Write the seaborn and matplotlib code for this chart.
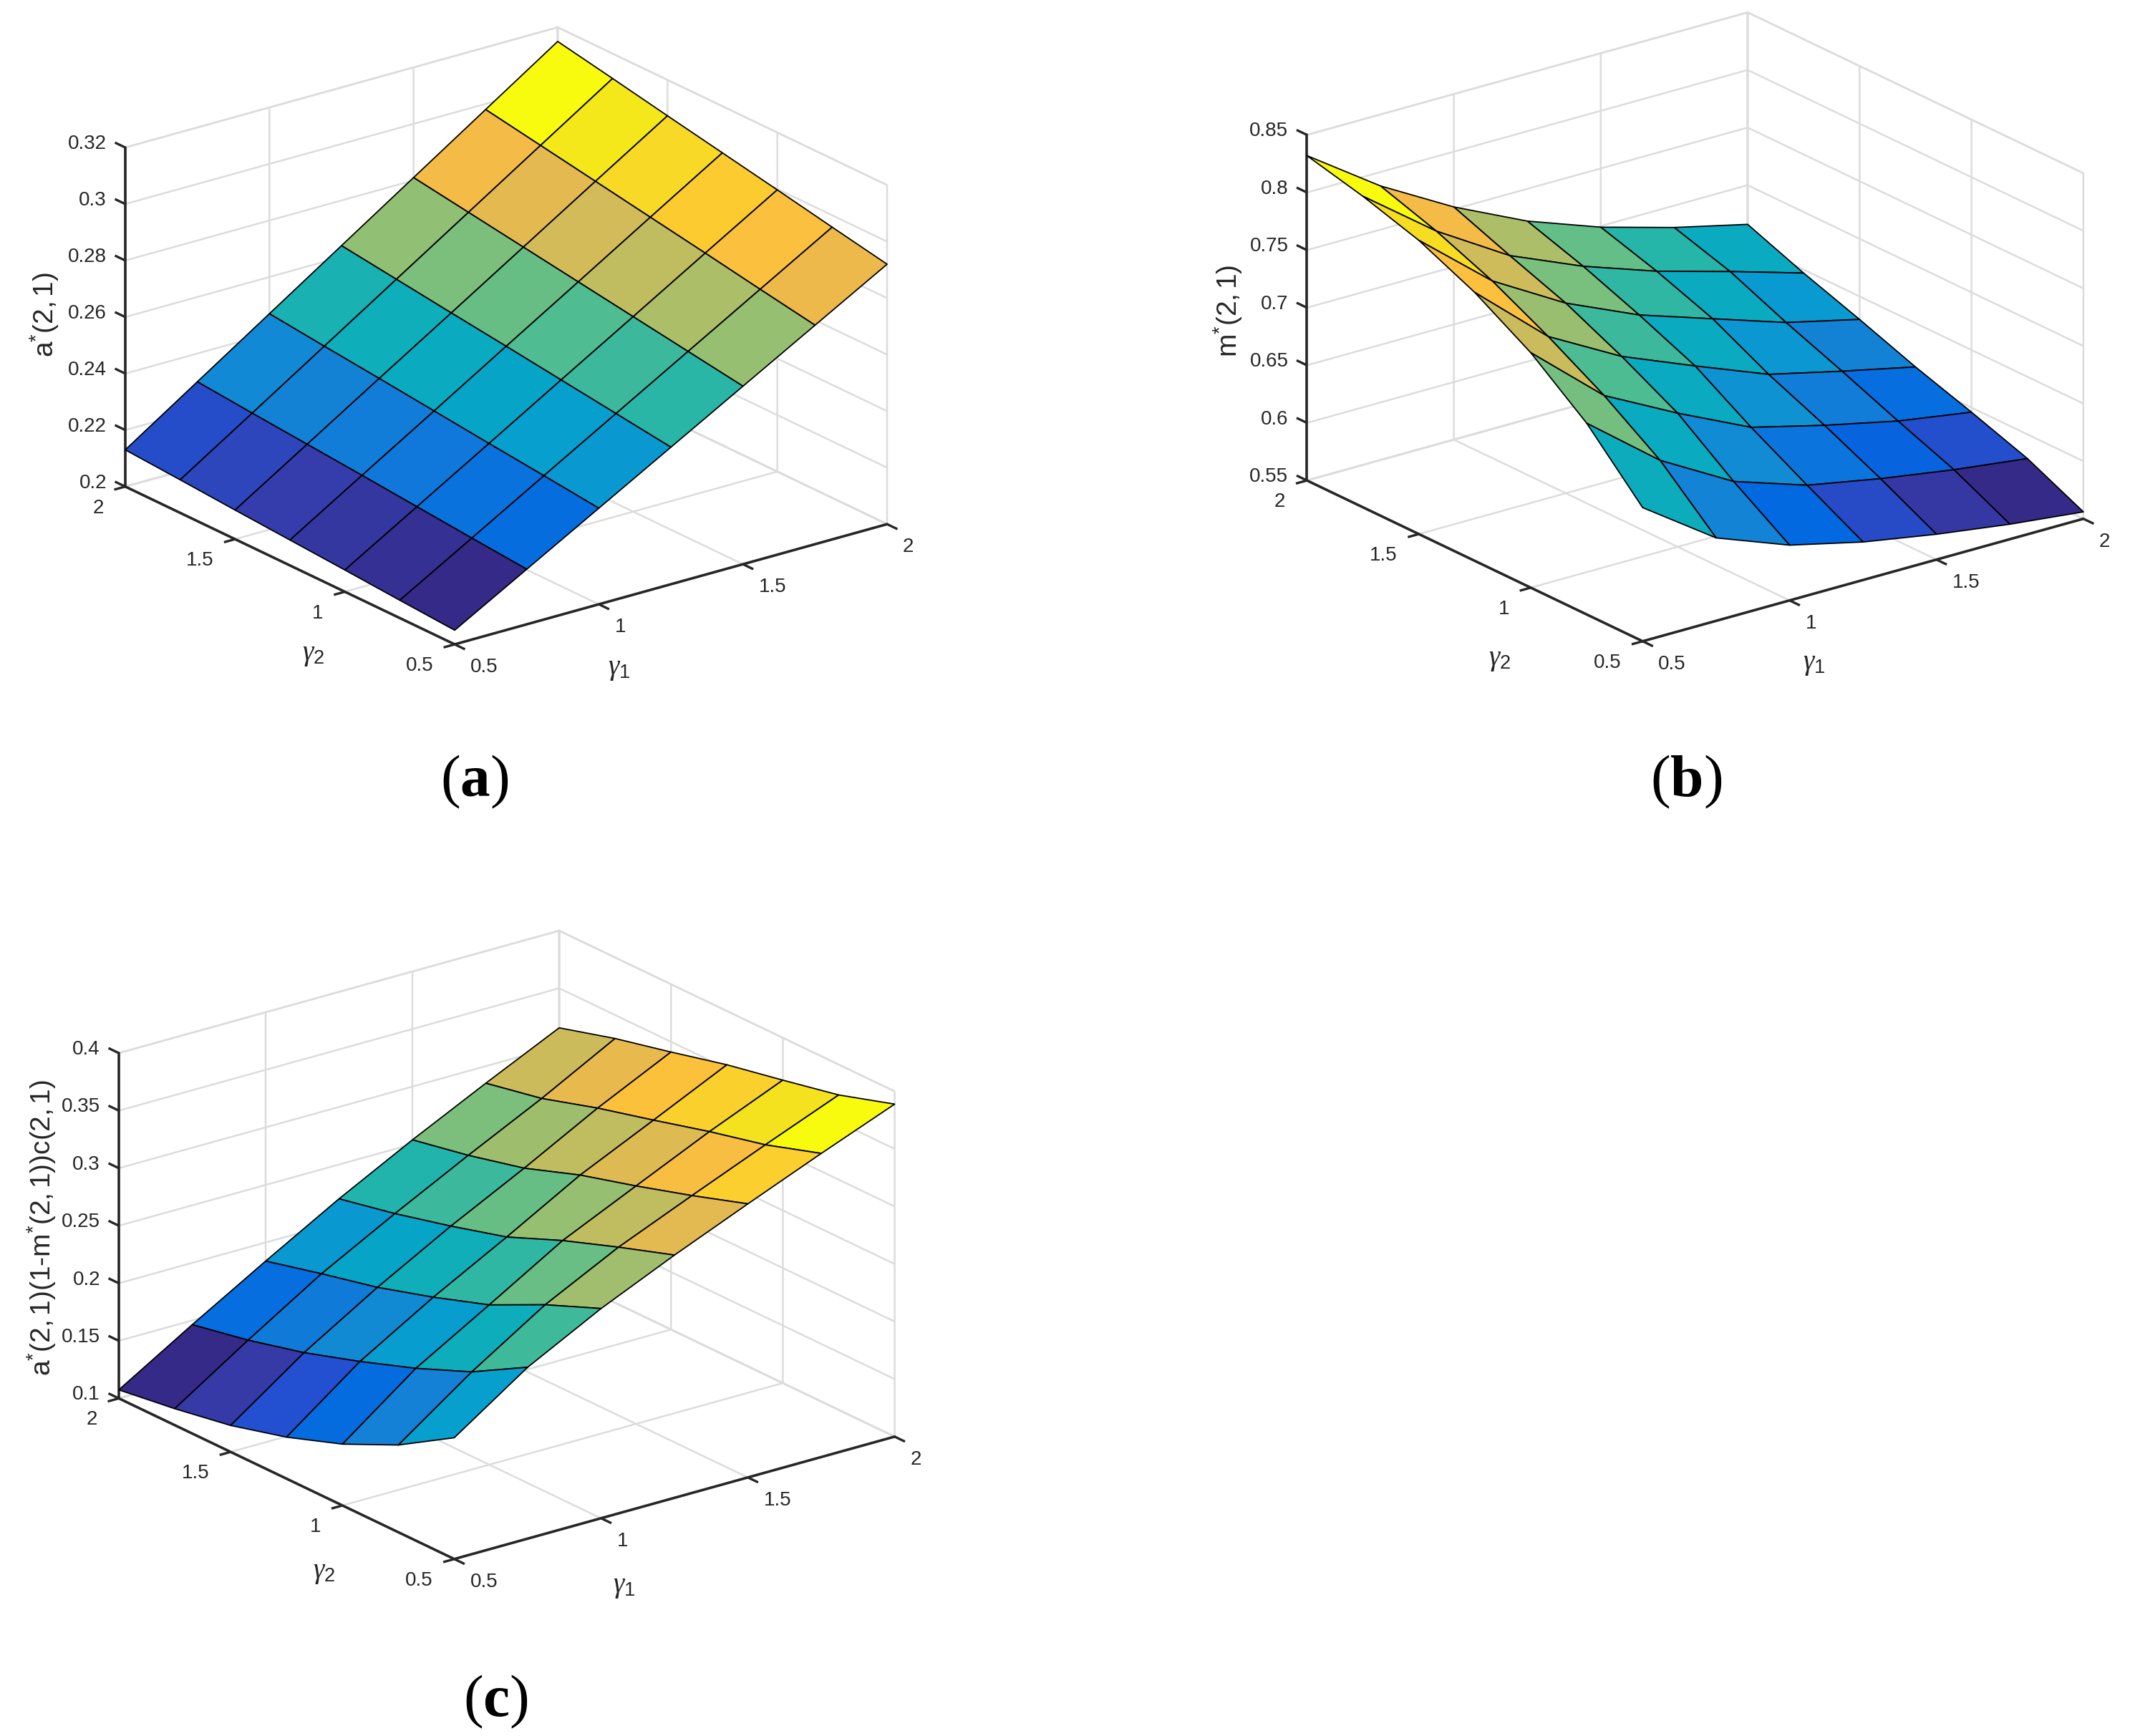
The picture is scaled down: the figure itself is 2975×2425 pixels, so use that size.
import numpy as np
import matplotlib
matplotlib.use('Agg')
import matplotlib.pyplot as plt
from matplotlib.lines import Line2D
import seaborn as sns
from mpl_toolkits.mplot3d import proj3d

sns.set_style('white')
plt.rcParams['font.family'] = ['Liberation Sans', 'DejaVu Sans']
plt.rcParams['mathtext.fontset'] = 'custom'
plt.rcParams['mathtext.rm'] = 'Liberation Sans'
plt.rcParams['mathtext.it'] = 'Liberation Serif:italic'
plt.rcParams['mathtext.bf'] = 'Liberation Serif:bold'
plt.rcParams['grid.color'] = '#dcdcdc'
plt.rcParams['grid.linewidth'] = 1.8
plt.rcParams['grid.linestyle'] = '-'

#%% values read off the three surfaces (rows: gamma2, columns: gamma1)
gamma1 = [0.5, 0.75, 1.0, 1.25, 1.5, 1.75, 2.0]
gamma2 = [0.5, 0.75, 1.0, 1.25, 1.5, 1.75, 2.0]

a_star = [
    [0.2050, 0.2195, 0.2340, 0.2485, 0.2630, 0.2775, 0.2920],
    [0.2063, 0.2212, 0.2362, 0.2511, 0.2660, 0.2809, 0.2958],
    [0.2077, 0.2230, 0.2383, 0.2537, 0.2690, 0.2844, 0.2997],
    [0.2090, 0.2248, 0.2405, 0.2563, 0.2720, 0.2878, 0.3035],
    [0.2103, 0.2265, 0.2427, 0.2588, 0.2750, 0.2912, 0.3073],
    [0.2117, 0.2282, 0.2448, 0.2614, 0.2780, 0.2946, 0.3112],
    [0.2130, 0.2300, 0.2470, 0.2640, 0.2810, 0.2980, 0.3150],
]

m_star = [
    [0.666, 0.622, 0.598, 0.583, 0.572, 0.563, 0.556],
    [0.716, 0.666, 0.630, 0.609, 0.597, 0.587, 0.579],
    [0.754, 0.699, 0.666, 0.636, 0.620, 0.606, 0.596],
    [0.783, 0.727, 0.692, 0.666, 0.641, 0.626, 0.612],
    [0.805, 0.752, 0.715, 0.687, 0.666, 0.645, 0.630],
    [0.820, 0.772, 0.733, 0.706, 0.684, 0.666, 0.647],
    [0.832, 0.788, 0.752, 0.722, 0.699, 0.681, 0.666],
]

profit = [
    [0.2054, 0.2489, 0.2822, 0.3109, 0.3377, 0.3638, 0.3889],
    [0.1758, 0.2216, 0.2622, 0.2945, 0.3216, 0.3480, 0.3736],
    [0.1533, 0.2014, 0.2388, 0.2770, 0.3067, 0.3362, 0.3632],
    [0.1361, 0.1841, 0.2222, 0.2568, 0.2929, 0.3229, 0.3533],
    [0.1230, 0.1685, 0.2075, 0.2430, 0.2756, 0.3101, 0.3411],
    [0.1143, 0.1561, 0.1961, 0.2306, 0.2635, 0.2952, 0.3296],
    [0.1074, 0.1463, 0.1838, 0.2202, 0.2537, 0.2852, 0.3156],
]

gamma_ticks = [0.5, 1.0, 1.5, 2.0]
gamma_ticklabels = ['0.5', '1', '1.5', '2']

# parula-like colormap
parula_anchors = [
    (0.2081, 0.1663, 0.5292), (0.2081, 0.2386, 0.6771), (0.1253, 0.3242, 0.8303),
    (0.0060, 0.4086, 0.8828), (0.0498, 0.4586, 0.8641), (0.0779, 0.5040, 0.8384),
    (0.0641, 0.5570, 0.8240), (0.0265, 0.6137, 0.8135), (0.0228, 0.6535, 0.7768),
    (0.0590, 0.6838, 0.7254), (0.1453, 0.7098, 0.6646), (0.2586, 0.7317, 0.5954),
    (0.3953, 0.7459, 0.5244), (0.5300, 0.7491, 0.4661), (0.6473, 0.7456, 0.4188),
    (0.7525, 0.7384, 0.3768), (0.8507, 0.7299, 0.3360), (0.9450, 0.7261, 0.2886),
    (0.9990, 0.7653, 0.2164), (0.9789, 0.8271, 0.1633), (0.9589, 0.8949, 0.1132),
    (0.9763, 0.9831, 0.0538),
]
parula = sns.blend_palette(parula_anchors, n_colors=256, as_cmap=True)

panels = [
    dict(z=a_star, zlim=(0.2, 0.32),
         zticks=[0.2, 0.22, 0.24, 0.26, 0.28, 0.3, 0.32],
         zticklabels=['0.2', '0.22', '0.24', '0.26', '0.28', '0.3', '0.32'],
         zlabel=r'$\mathrm{a^{*}(2,1)}$', tag='a',
         targets=[(175, 679), (1237, 734), (637, 901), (175, 204)],
         zlabel_xy=(62, 440), g2_xy=(438, 915), g1_xy=(865, 935), tag_xy=(663, 1092),
         rect=[0.0, 0.6, 0.45, 0.4]),
    dict(z=m_star, zlim=(0.55, 0.85),
         zticks=[0.55, 0.6, 0.65, 0.7, 0.75, 0.8, 0.85],
         zticklabels=['0.55', '0.6', '0.65', '0.7', '0.75', '0.8', '0.85'],
         zlabel=r'$\mathrm{m^{*}(2,1)}$', tag='b',
         targets=[(1825, 671), (2910, 725), (2295, 895), (1825, 189)],
         zlabel_xy=(1715, 434), g2_xy=(2095, 922), g1_xy=(2534, 928), tag_xy=(2355, 1092),
         rect=[0.55, 0.6, 0.45, 0.4]),
    dict(z=profit, zlim=(0.1, 0.4),
         zticks=[0.1, 0.15, 0.2, 0.25, 0.3, 0.35, 0.4],
         zticklabels=['0.1', '0.15', '0.2', '0.25', '0.3', '0.35', '0.4'],
         zlabel=r'$\mathrm{a^{*}(2,1)(1\text{-}m^{*}(2,1))c(2,1)}$', tag='c',
         targets=[(166, 1952), (1248, 2007), (636, 2180), (166, 1470)],
         zlabel_xy=(58, 1715), g2_xy=(453, 2197), g1_xy=(872, 2217), tag_xy=(692, 2377),
         rect=[0.0, 0.05, 0.45, 0.4]),
]

W, H = 2975, 2425
TXT = '#262626'
fig = plt.figure(figsize=(W / 100, H / 100), dpi=100)
G1, G2 = np.meshgrid(gamma1, gamma2)
axes = []
for p in panels:
    ax = fig.add_axes(p['rect'], projection='3d')
    ax.set_proj_type('ortho')
    ax.view_init(elev=21.4, azim=-127.3)
    ax.set_box_aspect((1, 1, 0.67))
    ax.plot_surface(G1, G2, np.array(p['z']), cmap=parula, edgecolor='k',
                    linewidth=1.3, antialiased=True)
    ax.set_xlim(0.5, 2)
    ax.set_ylim(0.5, 2)
    ax.set_zlim(*p['zlim'])
    ax.set_xticks(gamma_ticks)
    ax.set_xticklabels([''] * len(gamma_ticks))
    ax.set_yticks(gamma_ticks)
    ax.set_yticklabels([''] * len(gamma_ticks))
    ax.set_zticks(p['zticks'])
    ax.set_zticklabels([''] * len(p['zticks']))
    ax.grid(True)
    for axis in (ax.xaxis, ax.yaxis, ax.zaxis):
        # tick marks are drawn below, MATLAB style
        axis._axinfo['tick']['inward_factor'] = 0.0
        axis._axinfo['tick']['outward_factor'] = 0.0
        axis.line.set_color(TXT)
        axis.line.set_linewidth(2.6)
        axis.pane.set_alpha(None)
        axis.pane.set_facecolor((1, 1, 1, 0))
        axis.pane.set_edgecolor('#dcdcdc')
        axis.pane.set_linewidth(1.8)
    axes.append(ax)


def project(ax, pts):
    pts = np.asarray(pts, float)
    xs, ys, _ = proj3d.proj_transform(pts[:, 0], pts[:, 1], pts[:, 2], ax.M)
    d = ax.transData.transform(np.column_stack([xs, ys]))
    return d


# place each 3-D box so its corners land where the reference has them
fig.canvas.draw()
for ax, p in zip(axes, panels):
    z0, z1 = p['zlim']
    cur = project(ax, [(0.5, 2, z0), (2, 0.5, z0), (0.5, 0.5, z0), (0.5, 2, z1)])
    tgt = np.array([(px, H - py) for px, py in p['targets']], float)
    pos = ax.get_position()
    cen = np.array([(pos.x0 + pos.x1) / 2 * W, (pos.y0 + pos.y1) / 2 * H])
    d = cur - cen
    A = np.zeros((2 * len(d), 3))
    A[0::2, 0] = d[:, 0]
    A[1::2, 0] = d[:, 1]
    A[0::2, 1] = 1
    A[1::2, 2] = 1
    s, cx, cy = np.linalg.lstsq(A, tgt.ravel(), rcond=None)[0]
    w, h = pos.width * s, pos.height * s
    ax.set_position([cx / W - w / 2, cy / H - h / 2, w, h])
fig.canvas.draw()


def ftext(px, py, s, **kw):
    # px, py: pixel position measured from the top-left corner
    return fig.text(px / W, 1 - py / H, s, **kw)


def ticks(ax, pts, away, length=16):
    # short outward tick marks from each projected point along a 3-D direction
    base = project(ax, pts)
    far = project(ax, [tuple(np.add(q, away)) for q in pts])
    for b, f in zip(base, far):
        u = (f - b) / np.hypot(*(f - b))
        e = b + length * u
        fig.add_artist(Line2D([b[0] / W, e[0] / W], [b[1] / H, e[1] / H],
                              transform=fig.transFigure, color=TXT, lw=2.4,
                              solid_capstyle='butt'))
    return base


for ax, p in zip(axes, panels):
    z0 = p['zlim'][0]
    d = ticks(ax, [(t, 0.5, z0) for t in gamma_ticks], (0, -0.5, 0))
    for (x, y), lab in zip(d, gamma_ticklabels):
        ftext(x + 22, H - y + 29, lab, fontsize=20, ha='left', va='center_baseline', color=TXT)
    d = ticks(ax, [(0.5, t, z0) for t in gamma_ticks], (-0.5, 0, 0))
    for (x, y), lab in zip(d, gamma_ticklabels):
        ftext(x - 30, H - y + 27, lab, fontsize=20, ha='right', va='center_baseline', color=TXT)
    d = ticks(ax, [(0.5, 2, t) for t in p['zticks']], (0, 0.5, 0))
    for (x, y), lab in zip(d, p['zticklabels']):
        ftext(x - 26, H - y - 8, lab, fontsize=20, ha='right', va='center_baseline', color=TXT)

    ftext(*p['zlabel_xy'], p['zlabel'], rotation=90, fontsize=28,
          ha='center', va='center', color=TXT)
    ftext(*p['g2_xy'], r'$\gamma_2$', fontsize=28, ha='center', va='center', color=TXT)
    ftext(*p['g1_xy'], r'$\gamma_1$', fontsize=28, ha='center', va='center', color=TXT)
    ftext(*p['tag_xy'], r'($\mathbf{%s}$)' % p['tag'], family='Liberation Serif',
          fontsize=60, ha='center', va='center', color='black')

fig.savefig('out.png', dpi=100)
